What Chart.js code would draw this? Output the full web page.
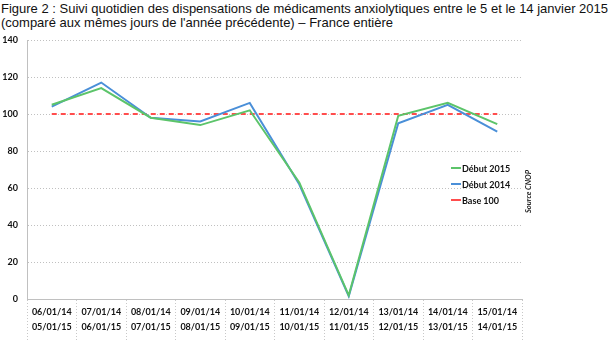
<!DOCTYPE html>
<html lang="fr">
<head>
  <meta charset="UTF-8" />
  <title>Figure 2 - anxiolytiques</title>
  <script src="https://cdn.jsdelivr.net/npm/chart.js"></script>
  <style>
    * { box-sizing: border-box; }
    body {
      margin: 0;
      width: 616px; height: 343px;
      background: #fff;
      position: relative;
      overflow: hidden;
    }
    #title {
      position: absolute; left: 1px; top: 2px;
      font-family: 'Liberation Sans', Arial, sans-serif;
      font-size: 13px; line-height: 14px;
      color: #111;
      white-space: nowrap;
    }
    #wrap { position: absolute; left: 0; top: 0; width: 616px; height: 343px; }
    /* legend sits inside the plot area, on the right */
    #legend {
      position: absolute; left: 451px; top: 160px;
      font-family: Lato, 'DejaVu Sans', sans-serif;
      font-weight: bold; font-size: 9px; color: #111;
    }
    .item { display: flex; align-items: center; height: 16px; }
    .swatch { width: 10px; height: 0; margin-right: 1px; }
    #source {
      position: absolute; left: 524px; top: 213px;
      transform: rotate(-90deg); transform-origin: left top;
      font-family: Lato, 'DejaVu Sans', sans-serif;
      font-style: italic; font-weight: bold; font-size: 7.5px; color: #222;
      white-space: nowrap;
    }
  </style>
</head>
<body>
  <div id="title">Figure 2 : Suivi quotidien des dispensations de médicaments anxiolytiques entre le 5 et le 14 janvier 2015<br>(comparé aux mêmes jours de l'année précédente) – France entière</div>
  <div id="wrap"><canvas id="chart" width="616" height="343"></canvas></div>
  <div id="legend">
    <div class="item"><span class="swatch" style="border-top:2px solid #5cc46a"></span>Début 2015</div>
    <div class="item"><span class="swatch" style="border-top:2px solid #4a8fd8"></span>Début 2014</div>
    <div class="item"><span class="swatch" style="border-top:2px dashed #ff4d4d"></span>Base 100</div>
  </div>
  <div id="source">Source CNOP</div>

<script>
  // dates: first row 2014, second row 2015
  const days2014 = ['06/01/14','07/01/14','08/01/14','09/01/14','10/01/14','11/01/14','12/01/14','13/01/14','14/01/14','15/01/14'];
  const days2015 = ['05/01/15','06/01/15','07/01/15','08/01/15','09/01/15','10/01/15','11/01/15','12/01/15','13/01/15','14/01/15'];

  const debut2015 = [105, 114, 98, 94, 102, 63, 2, 99, 106, 94.5];
  const debut2014 = [104, 117, 98, 96, 106, 62, 1.5, 95, 105, 90.5];
  const base100   = [100, 100, 100, 100, 100, 100, 100, 100, 100, 100];

  const yTicks = [0, 20, 40, 60, 80, 100, 120, 140];

  const labels = days2014.map((d, i) => [d, days2015[i]]);
  const tickFont = { family: 'Lato, "DejaVu Sans", sans-serif', size: 9, weight: 'bold' };
  const dotted = [1, 2];

  new Chart(document.getElementById('chart'), {
    type: 'line',
    data: {
      labels,
      datasets: [
        { label: 'Base 100', data: base100, borderColor: '#ff4d4d', borderWidth: 2, borderDash: [5, 4], pointRadius: 0, order: 3 },
        { label: 'Début 2014', data: debut2014, borderColor: '#4a8fd8', borderWidth: 2, pointRadius: 0, tension: 0, order: 2 },
        { label: 'Début 2015', data: debut2015, borderColor: '#5cc46a', borderWidth: 2, pointRadius: 0, tension: 0, order: 1 }
      ]
    },
    options: {
      responsive: false,
      animation: false,
      layout: { padding: { top: 40, right: 94, left: 0, bottom: 0 } },
      plugins: { legend: { display: false }, tooltip: { enabled: false } },
      scales: {
        x: {
          offset: true,
          grid: {
            offset: true,
            drawOnChartArea: false,
            tickLength: 42,
            tickColor: '#c8c8c8',
            tickBorderDash: dotted
          },
          border: { display: true, color: '#c0c0c0', dash: dotted },
          ticks: { font: { ...tickFont, lineHeight: 1.7 }, color: '#111', padding: -37, maxRotation: 0, autoSkip: false },
          afterFit: s => { s.height = 44; }
        },
        y: {
          min: 0, max: 140,
          afterBuildTicks: s => { s.ticks = yTicks.map(v => ({ value: v })); },
          grid: { color: '#c0c0c0', borderDash: dotted, drawTicks: false },
          border: { display: true, color: '#c0c0c0', dash: dotted },
          ticks: { font: tickFont, color: '#111', padding: 9 },
          afterFit: s => { s.width = 27; }
        }
      }
    }
  });
</script>
</body>
</html>
